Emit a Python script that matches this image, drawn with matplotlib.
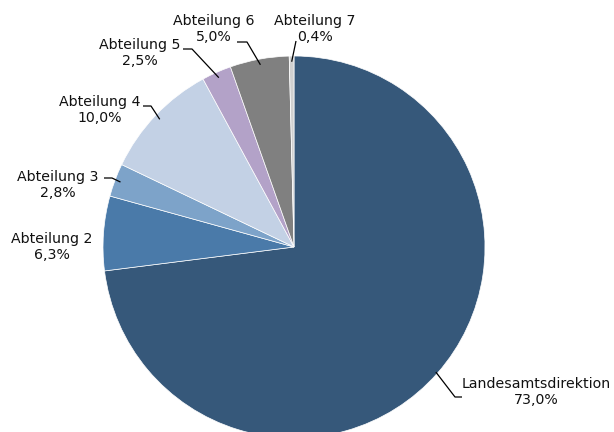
import numpy as np
import matplotlib
matplotlib.use('Agg')
import matplotlib.pyplot as plt

plt.rcParams['font.family'] = ['DejaVu Sans']

# Daten
labels = ['Landesamtsdirektion', 'Abteilung 2', 'Abteilung 3', 'Abteilung 4',
          'Abteilung 5', 'Abteilung 6', 'Abteilung 7']
values = [73.0, 6.3, 2.8, 10.0, 2.5, 5.0, 0.4]
colors = ['#36587a', '#4a7aa9', '#7da3c9', '#c3d1e5', '#b3a2c8', '#808080', '#d0d0d0']

# Pixel -> Datenkoordinaten (Mitte 294/247, Radius 191 px)
CX, CY, R = 294, 247, 191


def px(x, y):
    return (x - CX) / R, (CY - y) / R


# Layout der Beschriftungen: Textmitte, Knickpunkt, Linienende (Pixel)
label_layout = {
    'Landesamtsdirektion': ((536, 392), (455, 397), (462, 397)),
    'Abteilung 2': ((52, 247), None, None),
    'Abteilung 3': ((58, 185), (112, 178), (104, 178)),
    'Abteilung 4': ((100, 110), (151, 106), (143, 106)),
    'Abteilung 5': ((140, 53), (192, 49), (183, 49)),
    'Abteilung 6': ((214, 29), (247, 42), (237, 42)),
    'Abteilung 7': ((315, 29), (296, 41), (296, 41)),
}

fig = plt.figure(figsize=(6.14, 4.32), dpi=100)
ax = fig.add_axes([0, 0, 1, 1])

wedges, _ = ax.pie(values, colors=colors, startangle=90, counterclock=False,
                   radius=1.0, center=(0, 0),
                   wedgeprops=dict(edgecolor='white', linewidth=0.5))

for w, lab, v in zip(wedges, labels, values):
    (tx, ty), elbow, end = label_layout[lab]
    txt = f'{lab}\n{v:.1f}%'.replace('.', ',')
    ax.text(*px(tx, ty), txt, ha='center', va='center', fontsize=10.2,
            color='#111111', linespacing=1.15)
    if elbow is not None:
        mid = np.radians((w.theta1 + w.theta2) / 2)
        r0 = 0.97 if lab != 'Landesamtsdirektion' else 0.99
        ex, ey = r0 * np.cos(mid), r0 * np.sin(mid)
        bx, by = px(*elbow)
        fx, fy = px(*end)
        ax.plot([ex, bx, fx], [ey, by, fy], color='black', linewidth=0.9,
                solid_capstyle='butt')

ax.set_xlim(-CX / R, (614 - CX) / R)
ax.set_ylim(-(432 - CY) / R, CY / R)
ax.set_aspect('auto')
ax.axis('off')

fig.savefig('out.png', dpi=100)
